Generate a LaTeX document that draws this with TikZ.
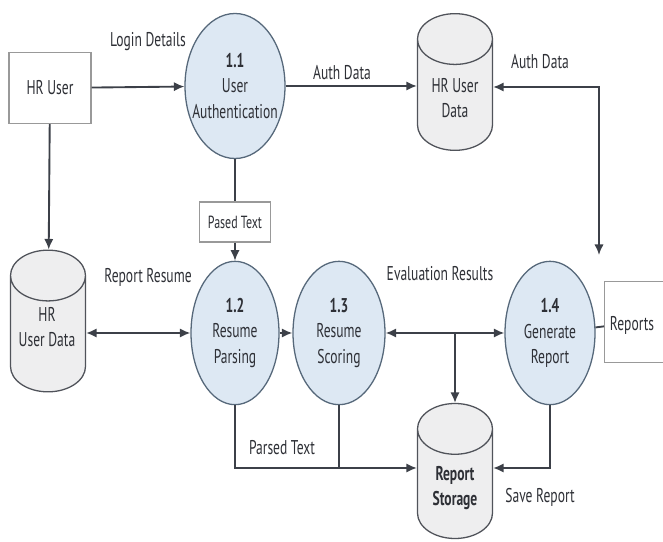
\documentclass[tikz,border=0pt]{standalone}
\usepackage{fontspec}
\setmainfont{PT Sans}[FakeStretch=0.68]
\usetikzlibrary{shapes.geometric,arrows.meta}

\definecolor{linegray}{HTML}{3C4048}
\definecolor{procblue}{HTML}{DDE8F3}
\definecolor{procline}{HTML}{56687A}
\definecolor{storegray}{HTML}{EEEEEF}
\definecolor{textgray}{HTML}{2E3036}

\begin{document}
\begin{tikzpicture}[
                    x=0.03cm, y=-0.03cm,
                    every node/.style={
                        font=\fontsize{17}{22}\selectfont,
                        text=textgray,
                        align=center
                    },
                    proc/.style={
                        ellipse,
                        draw=procline,
                        fill=procblue,
                        line width=1.1pt,
                        inner sep=0pt,
                        minimum width=2.7cm,
                        minimum height=4.3cm
                    },
                    store/.style={
                        cylinder,
                        shape border rotate=90,
                        aspect=6.5,
                        anchor=shape center,
                        draw=linegray!90,
                        fill=storegray,
                        line width=1.1pt,
                        minimum width=2.25cm,
                        minimum height=4.1cm
                    },
                    extbox/.style={
                        rectangle,
                        draw=gray!80,
                        fill=white,
                        line width=1pt
                    },
                    flow/.style={
                        draw=linegray,
                        line width=1.6pt,
                        -{Latex[length=9pt,width=8pt]}
                    },
                    flowboth/.style={
                        flow,
                        {Latex[length=9pt,width=8pt]}-{Latex[length=9pt,width=8pt]}
                    },
                    link/.style={
                        draw=linegray,
                        line width=1.6pt
                    }
                ]
                    \useasboundingbox (0,0) rectangle (663,542);

                    \node[extbox, minimum width=2.46cm, minimum height=2.13cm] (hruser) at (50,88) {HR User};
                    \node[proc, minimum width=3cm, minimum height=4.35cm, label=center:{\textbf{1.1}\\User\\Authentication}] (auth) at (235,86) {};
                    \node[store] (userdata) at (455,82) {};
                    \node (userdatatext) at (455,98) {HR User\\Data};
                    \node[store, minimum height=4.25cm] (hrdata) at (48,321) {};
                    \node (hrdatatext) at (47,327) {HR\\User Data};
                    \node[extbox, minimum width=2.13cm, minimum height=1.2cm, font=\fontsize{15}{16}\selectfont] (pased) at (235,222) {Pased Text};
                    \node[proc, minimum width=2.64cm, label=center:{\textbf{1.2}\\Resume\\Parsing}] (parse) at (235,333) {};
                    \node[proc, minimum width=2.76cm, label=center:{\textbf{1.3}\\Resume\\Scoring}] (score) at (339,333) {};
                    \node[proc, label=center:{\textbf{1.4}\\Generate\\Report}] (gen) at (550,333) {};
                    \node[extbox, minimum width=2.1cm, minimum height=2.43cm, anchor=west] (reports) at (604,322) {};
                    \node (reportstext) at (632,325) {Reports};
                    \node[store, minimum height=4.05cm] (storage) at (455,471) {};
                    \node (storagetext) at (455,488) {\textbf{Report}\\\textbf{Storage}};
                    \coordinate (gentop) at (599,255);
                    \coordinate (storein) at (455,468);

                    % Labels
                    \node (login) at (148,42) {Login Details};
                    \node (authlbl) at (342,73) {Auth Data};
                    \node (authlbl2) at (540,62) {Auth Data};
                    \node (resumelbl) at (148,277) {Report Resume};
                    \node (evallbl) at (440,274) {Evaluation Results};
                    \node (parsedlbl) at (282,448) {Parsed Text};
                    \node (savelbl) at (540,497) {Save Report};

                    % Edges
                    \draw[flow] (hruser) -- (auth);
                    \draw[flow] (auth.east) -- (auth.east -| userdata.west);
                    \draw[flowboth] (userdata.east |- 0,87) -| (gentop);
                    \draw[flow] (hruser) -- (hrdata);
                    \draw[link] (auth) -- (pased);
                    \draw[flow] (pased) -- (parse);
                    \draw[flowboth] (parse.west -| hrdata.east) -- (parse.west);
                    \draw[flow] (parse) -- (score);
                    \draw[flowboth] (score) -- (gen);
                    \draw[flow] (score.east -| storage.north) -- (storage.north);
                    \draw[flow] (parse.south) |- (storein -| storage.west);
                    \draw[link] (score.south) -- (score.south |- storein);
                    \draw[flow] (gen.south) |- (storein -| storage.east);
                    \draw[link] (gen) -- (reports);
                \end{tikzpicture}
\end{document}
